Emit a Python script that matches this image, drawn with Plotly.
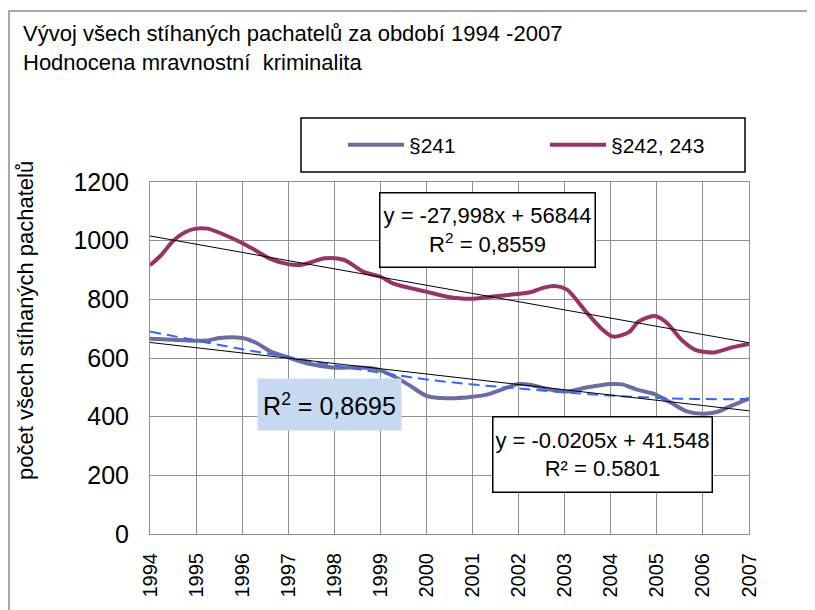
import plotly.graph_objects as go

# ---- data ----
title_line1 = "Vývoj všech stíhaných pachatelů za období 1994 -2007"
title_line2 = "Hodnocena mravnostní  kriminalita"
y_title = "počet všech stíhaných pachatelů"

tick_years = list(range(1994, 2008))

s241_name = "§241"
s241_x = [1994.0, 1994.5, 1995.0, 1995.25, 1995.5, 1996.0, 1996.3, 1996.6, 1997.0, 1997.4,
          1998.0, 1998.5, 1998.9, 1999.3, 1999.65, 2000.0, 2000.45, 2001.0, 2001.35, 2001.75,
          2002.0, 2002.25, 2002.6, 2003.05, 2003.5, 2004.0, 2004.25, 2004.55, 2004.95, 2005.3,
          2005.65, 2006.0, 2006.3, 2006.6, 2007.0]
s241_y = [666, 662, 659, 660, 668, 668, 652, 624, 602, 582,
          567, 568, 563, 537, 505, 471, 463, 468, 477, 499,
          511, 509, 495, 486, 500, 511, 510, 493, 477, 448,
          418, 410, 416, 436, 462]

s242_name = "§242, 243"
s242_x = [1994.0, 1994.25, 1994.5, 1994.75, 1995.0, 1995.25, 1995.6, 1996.0, 1996.3, 1996.6,
          1997.0, 1997.3, 1997.8, 1998.2, 1998.65, 1999.0, 1999.3, 2000.0, 2000.45, 2000.95,
          2001.45, 2001.9, 2002.25, 2002.55, 2002.8, 2003.05, 2003.45, 2003.8, 2004.05, 2004.4,
          2004.6, 2004.95, 2005.2, 2005.55, 2005.85, 2006.25, 2006.65, 2007.0]
s242_y = [916, 952, 999, 1028, 1041, 1041, 1021, 992, 966, 939,
          920, 918, 940, 935, 893, 877, 853, 826, 809, 802,
          810, 817, 824, 840, 845, 833, 760, 700, 673, 689,
          724, 743, 722, 660, 627, 619, 637, 648]

# trend lines
trend242_x = [1994, 2007]
trend242_y = [1016, 652]
trend241_x = [1994, 2007]
trend241_y = [653, 420]
poly241_x = [1994, 1995, 1996, 1997, 1998, 1999, 2000, 2001, 2002, 2003, 2004, 2005, 2006, 2007]
poly241_y = [690, 660, 630, 603, 575, 550, 527, 510, 496, 483, 472, 464, 460, 460]

label_eq242 = "y = -27,998x + 56844<br>R<sup>2</sup> = 0,8559"
label_r2_241 = "R<sup>2</sup> = 0,8695"
label_eq241 = "y = -0.0205x + 41.548<br>R² = 0.5801"

# ---- figure ----
FONT = "Liberation Sans, Arial, sans-serif"
OFF = 8                      # default page margin of the html body
W, H = 815 - OFF, 610 - OFF
# plot area in window pixels
PX0, PX1, PY0, PY1 = 150, 749, 182, 534
L, R = PX0 - OFF, W - (PX1 - OFF)
T, B = PY0 - OFF, H - (PY1 - OFF)
pw, ph = PX1 - PX0, PY1 - PY0


def px(xp):
    return (xp - PX0) / pw


def py(yp):
    return (PY1 - yp) / ph


fig = go.Figure()
fig.add_trace(go.Scatter(x=s241_x, y=s241_y, name=s241_name, mode="lines",
                         line=dict(color="#6C6CA4", width=4, shape="spline", smoothing=0.8)))
fig.add_trace(go.Scatter(x=s242_x, y=s242_y, name=s242_name, mode="lines",
                         line=dict(color="#993366", width=4, shape="spline", smoothing=0.8)))
fig.add_trace(go.Scatter(x=poly241_x, y=poly241_y, mode="lines", showlegend=False,
                         line=dict(color="#3366FF", width=2, dash="11px,6px", shape="spline")))
fig.add_trace(go.Scatter(x=trend241_x, y=trend241_y, mode="lines", showlegend=False,
                         line=dict(color="black", width=1)))
fig.add_trace(go.Scatter(x=trend242_x, y=trend242_y, mode="lines", showlegend=False,
                         line=dict(color="black", width=1)))

grid = "#8f8f8f"
fig.update_xaxes(range=[1994, 2007], tickvals=tick_years, ticktext=[str(t) for t in tick_years],
                 tickangle=-90, showgrid=True, gridcolor=grid, gridwidth=1,
                 showline=True, linecolor=grid, linewidth=1, mirror=True, zeroline=False,
                 ticks="", ticklabelstandoff=10, automargin=False,
                 tickfont=dict(family=FONT, size=20, color="black"))
fig.update_yaxes(range=[0, 1200], dtick=200, showgrid=True, gridcolor=grid, gridwidth=1,
                 showline=True, linecolor=grid, linewidth=1, mirror=True, zeroline=False,
                 ticks="", ticklabelstandoff=15, automargin=False,
                 tickfont=dict(family=FONT, size=25, color="black"))

shapes = [
    # outer chart border
    dict(type="rect", xref="paper", yref="paper", x0=px(9), x1=px(840), y0=py(660), y1=py(11),
         line=dict(color="#8a8a8a", width=1.5), layer="below"),
    # legend box
    dict(type="rect", xref="paper", yref="paper", x0=px(301), x1=px(745), y0=py(172), y1=py(118),
         line=dict(color="black", width=1.5)),
]

annotations = [
    dict(text=title_line1, xref="paper", yref="paper", x=px(21), y=py(33), xanchor="left",
         yanchor="middle", showarrow=False, font=dict(family=FONT, size=22, color="black")),
    dict(text=title_line2, xref="paper", yref="paper", x=px(21), y=py(62), xanchor="left",
         yanchor="middle", showarrow=False, font=dict(family=FONT, size=22, color="black")),
    dict(text=y_title, xref="paper", yref="paper", x=px(25), y=py(321), xanchor="center",
         yanchor="middle", textangle=-90, showarrow=False,
         font=dict(family=FONT, size=22, color="black")),
    dict(text=label_eq242, xref="paper", yref="paper", x=px(487.5), y=py(230), xanchor="center",
         yanchor="middle", showarrow=False, width=214, height=73, borderpad=0,
         bordercolor="black", borderwidth=1.5, bgcolor="white",
         font=dict(family=FONT, size=22, color="black")),
    dict(text=label_r2_241, xref="paper", yref="paper", x=px(329.5), y=py(404.5), xanchor="center",
         yanchor="middle", showarrow=False, width=143, height=51, borderpad=0,
         bgcolor="#C6D9F1", font=dict(family=FONT, size=25, color="black")),
    dict(text=label_eq241, xref="paper", yref="paper", x=px(602.5), y=py(454.5), xanchor="center",
         yanchor="middle", showarrow=False, width=218, height=74, borderpad=0,
         bordercolor="black", borderwidth=1.5, bgcolor="white",
         font=dict(family=FONT, size=22, color="black")),
]

fig.update_layout(
    width=W, height=H,
    margin=dict(l=L, r=R, t=T, b=B, autoexpand=False),
    paper_bgcolor="white", plot_bgcolor="white",
    showlegend=True,
    legend=dict(orientation="h", xref="container", yref="container",
                x=(343 - OFF) / W, y=1 - (145 - OFF) / H, xanchor="left", yanchor="middle",
                entrywidth=131, entrywidthmode="pixels", bgcolor="rgba(0,0,0,0)",
                borderwidth=0, itemwidth=56,
                font=dict(family=FONT, size=21, color="black")),
    shapes=shapes,
    annotations=annotations,
)

fig.write_html("out.html")
